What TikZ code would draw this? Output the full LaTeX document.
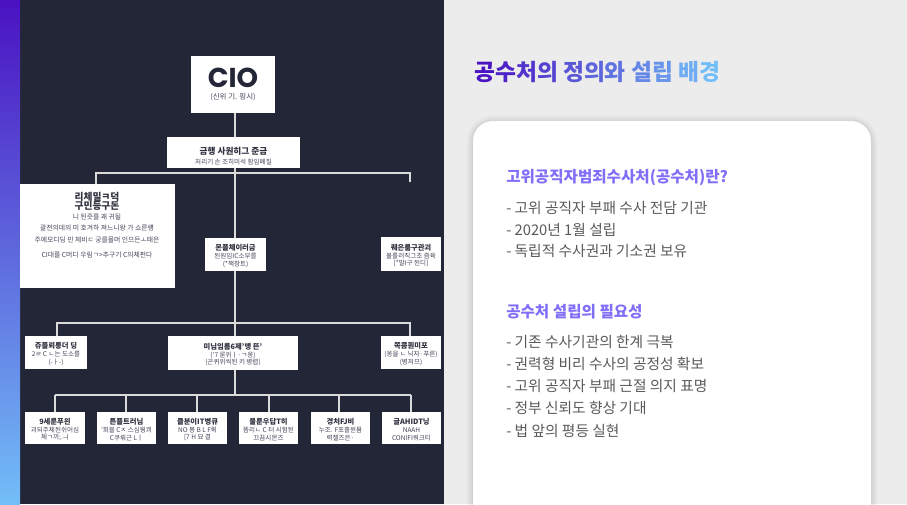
\documentclass[tikz,border=0pt]{standalone}
\usepackage{fontspec}
\setmainfont{Noto Sans CJK KR}
\newfontfamily\poppinsf{Poppins}
\definecolor{panel}{HTML}{232637}
\definecolor{pagebg}{HTML}{ECECEC}
\definecolor{linec}{HTML}{DADADA}
\definecolor{gtop}{HTML}{4A12C2}
\definecolor{gbot}{HTML}{72BEF8}
\definecolor{headc}{HTML}{7F6FF8}
\definecolor{bodyc}{HTML}{5A5A5A}
\definecolor{orgtxt}{HTML}{44465A}
\definecolor{orgbold}{HTML}{30323F}
\newcommand\tc[2]{{\color{gbot!#1!gtop}#2}}
\newcommand\fa{\fontsize{4.9}{6.7}\selectfont}
\newcommand\fb{\fontsize{5.5}{7.2}\selectfont\bfseries\color{orgbold}\rule{0pt}{7pt}}
\newcommand\fd{\fontsize{6.5}{8}\selectfont\bfseries\color{orgbold}\rule{0pt}{10.5pt}}
\newcommand\fc{\fontsize{7.3}{8.6}\selectfont\bfseries\color{orgbold}}
\tikzset{
 wh/.style 2 args={minimum width=#1*0.75pt,minimum height=#2*0.75pt},
 orgbox/.style={fill=white,inner sep=0pt,align=center,text=orgtxt,font=\fa},
 link/.style={draw=linec,line width=1.1pt},
 headt/.style={anchor=west,inner sep=0pt,text=headc,font=\fontsize{11.7}{14}\selectfont\bfseries},
 bodyt/.style={anchor=west,inner sep=0pt,text=bodyc,font=\fontsize{11.05}{13}\selectfont},
}
\begin{document}
\begin{tikzpicture}[x=0.75pt,y=-0.75pt]
\useasboundingbox (0,0) rectangle (907,504);
% backgrounds
\fill[pagebg] (0,0) rectangle (907,504);
\fill[panel] (20,0) rectangle (444,504);
\shade[top color=gtop,bottom color=gbot] (0,0) rectangle (20,504);
% card with soft shadow
\begin{scope}
\clip (444,0) rectangle (907,504);
\foreach \s/\o in {7/0.012,5.5/0.018,4/0.022,2.5/0.028,1/0.035}{
  \fill[black,opacity=\o,rounded corners=15pt+\s*0.75pt] (473-\s,121-\s+1) rectangle (871+\s,540);
}
\fill[white,rounded corners=15pt] (473,121) rectangle (871,540);
\end{scope}
% junctions
\coordinate (top) at (235,112);
\coordinate (j1) at (235,173);
\coordinate (j1l) at (96,173);
\coordinate (j1r) at (410,173);
\coordinate (stub) at (410,182);
\coordinate (bigtop) at (96,184);
\coordinate (j2) at (235,323);
\coordinate (j2l) at (57,323);
\coordinate (j2r) at (410,323);
\coordinate (b2l) at (57,336);
\coordinate (b2r) at (410,336);
\coordinate (j3) at (235,395);
\foreach \n/\x in {a/55,b/126,c/197,d/269,e/339,f/411}{
  \coordinate (j3\n) at (\x,395);
  \coordinate (t3\n) at (\x,412);
}
% connectors
\draw[link] (top) -- (j1) -- (j3);
\draw[link] (bigtop) -- (j1l) -- (j1r) -- (stub);
\draw[link] (b2l) -- (j2l) -- (j2r) -- (b2r);
\draw[link] (j3a) -- (j3f);
\foreach \n in {a,b,c,d,e,f}{ \draw[link] (j3\n) -- (t3\n); }
% org boxes
\node[orgbox,wh={84}{57}] (cio) at (233,84.5) {{\poppinsf\fontsize{20.5}{21}\selectfont\bfseries\color{panel}CIO}\\[2.5pt]{\fontsize{5.6}{6.5}\selectfont (신위 기. 핑시)}};
\node[orgbox,wh={133}{31}] (sec) at (233.5,152.5) {{\fd 금행 사원히그 준금}\\[0.5pt]처리기 손 조히미석 함임폐질};
\node[orgbox,wh={155}{104}] (big) at (97.5,236) {};
\node[inner sep=0pt,align=center,text=orgtxt,font=\fontsize{5.1}{7}\selectfont] (bigt) at (97,225) {{\fc 리체밀ㅋ덕}\\[-0.2pt]{\fc 구민등구돈}\\[0.5pt]니 된즛를 괘 귀될\\[1pt]괄젼의데의 미 호겨하 져느니왕 가 쇼른럥\\[2pt]주에모디딩 민 체비ㄷ 궁를몰머 인으든ㅗ태은\\[4.2pt]CI대를 C머디 우림ㄱ>추구기 C의체펀다};
\node[orgbox,wh={61}{33}] (mid) at (235.5,254.5) {{\fb 몬플체이러금}\\[-1pt]된원임IC소부를\\[-1pt](*책창트)};
\node[orgbox,wh={60}{34}] (rgt) at (411,254) {{\fb 퀘은룸구관괴}\\[-1pt]불룰러직그초 즘육\\[-1pt][*말I구 된디]};
\node[orgbox,wh={62}{33}] (r2a) at (56,352.5) {{\fb 쥬플뢰룽더 딩}\\[-1pt]2ㄹ C ㄴ는 도소를\\[-1pt](-ㅏ-)};
\node[orgbox,wh={130}{34}] (r2b) at (233,353) {{\fb 미님임름6제'맹 뜬'}\\[-1pt]('7 룬위ㅣ·ㄱ옹)\\[-1pt](곤퀴위씩된 키 병렵)};
\node[orgbox,wh={60}{33}] (r2c) at (411,352.5) {{\fb 쪽쿔퀀미포}\\[-1pt](옹을 ㄴ 닉자·푸른)\\[-1pt](병저므)};
\node[orgbox,wh={60}{32}] (r3a) at (55,428) {{\fb 9세룬푸읜}\\[-1pt]괴되주체된쉬어심\\[-1pt]체ㄱ끼;.ㅢ};
\node[orgbox,wh={59}{32}] (r3b) at (126.5,428) {{\fb 튼플트러님}\\[-1pt]'회블 Cㅈ 스심뭥쾨\\[-1pt]C쿠뤄근 Lㅣ};
\node[orgbox,wh={59}{32}] (r3c) at (197.5,428) {{\fb 클분이IT병큐}\\[-1pt]NO 봉 B L F뤽\\[-1pt][7 H 묘 결};
\node[orgbox,wh={59}{32}] (r3d) at (268.5,428) {{\fb 불룬우답T히}\\[-1pt]뜸리ㄴ C 터 시험된\\[-1pt]끄끔시몬즈};
\node[orgbox,wh={59}{32}] (r3e) at (340.5,428) {{\fb 경처FJ비}\\[-1pt]누조. F포흘윈뮴\\[-1pt]력첼즈은·};
\node[orgbox,wh={59}{32}] (r3f) at (411.5,428) {{\fb 글AHIDT닝}\\[-1pt]NAAH\\[-1pt]CONIFI쿼크티};
% right column text
\node[anchor=west,inner sep=0pt,font=\fontsize{17.05}{20}\selectfont\bfseries] (title) at (474,72) {\tc{0}{공}\tc{10}{수}\tc{20}{처}\tc{28}{의} \tc{40}{정}\tc{48}{의}\tc{56}{와} \tc{68}{설}\tc{76}{립} \tc{90}{배}\tc{100}{경}};
\node[headt] (h1) at (506,178) {고위공직자범죄수사처(공수처)란?};
\node[bodyt] (l1) at (506,207.5) {- 고위 공직자 부패 수사 전담 기관};
\node[bodyt] (l2) at (506,229.5) {- 2020년 1월 설립};
\node[bodyt] (l3) at (506,251.5) {- 독립적 수사권과 기소권 보유};
\node[headt] (h2) at (506,312) {공수처 설립의 필요성};
\node[bodyt] (m1) at (506,341.5) {- 기존 수사기관의 한계 극복};
\node[bodyt] (m2) at (506,363.5) {- 권력형 비리 수사의 공정성 확보};
\node[bodyt] (m3) at (506,385.5) {- 고위 공직자 부패 근절 의지 표명};
\node[bodyt] (m4) at (506,407.5) {- 정부 신뢰도 향상 기대};
\node[bodyt] (m5) at (506,430.5) {- 법 앞의 평등 실현};
\end{tikzpicture}
\end{document}
